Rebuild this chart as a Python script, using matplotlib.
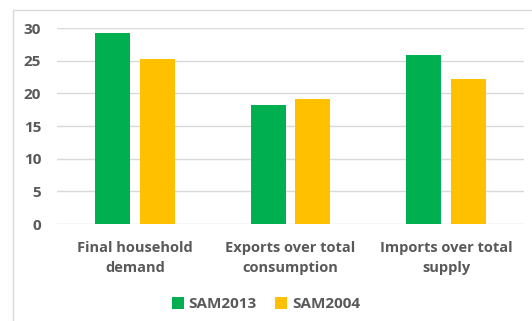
import matplotlib
matplotlib.use("Agg")
import matplotlib.pyplot as plt
import numpy as np
from matplotlib.patches import Rectangle

categories = ["Final household\ndemand", "Exports over total\nconsumption", "Imports over total\nsupply"]
sam2013 = [29.3, 18.2, 25.8]
sam2004 = [25.2, 19.1, 22.2]
yticks = [0, 5, 10, 15, 20, 25, 30]

plt.rcParams['font.family'] = ['Open Sans', 'DejaVu Sans']
plt.rcParams['font.weight'] = 'bold'

W, H = 532, 321
fig = plt.figure(figsize=(W / 100, H / 100), dpi=100)

# outer chart frame (only left and top edges visible in the crop)
fig.patches.append(Rectangle((13 / W, -0.1), 1.2, 1 - 10 / H + 0.1, transform=fig.transFigure,
                             fill=False, edgecolor='#D9D9D9', linewidth=1.0))

ax = fig.add_axes([57 / W, 1 - 224 / H, (524 - 57) / W, (224 - 28) / H])

x = np.arange(len(categories))
w = 0.225
off = 0.143
ax.bar(x - off, sam2013, w, color='#00B050', label='SAM2013', zorder=3)
ax.bar(x + off, sam2004, w, color='#FFC000', label='SAM2004', zorder=3)

ax.set_xlim(-0.5, 2.5)
ax.set_ylim(0, 30)
ax.set_yticks(yticks)
ax.set_xticks(x)
ax.set_xticklabels(categories, fontsize=10.5, color='#595959', fontweight='bold', linespacing=1.5)
ax.tick_params(axis='y', labelsize=11, labelcolor='#595959', length=0, pad=11.5)
ax.tick_params(axis='x', length=0, pad=12.5)
ax.grid(axis='y', color='#D9D9D9', linewidth=1.0, zorder=0)
for s in ax.spines.values():
    s.set_visible(False)

fig.legend(loc='center', bbox_to_anchor=(0.5, 1 - 304 / H), ncol=2, frameon=False,
           handlelength=0.8, handleheight=0.8, handletextpad=0.3, columnspacing=1.2,
           prop={'size': 11, 'weight': 'bold'}, labelcolor='#595959')

fig.savefig('out.png', dpi=100)
